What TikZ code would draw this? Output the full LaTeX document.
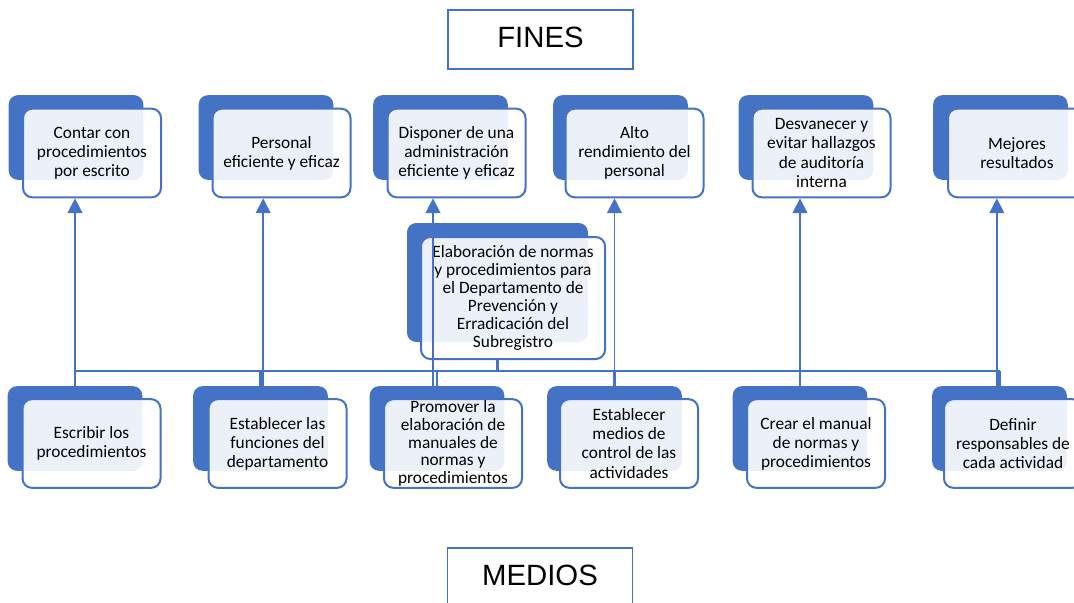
\documentclass[tikz,border=0pt]{standalone}
\usepackage{fontspec}
\setmainfont{Carlito}
\newfontfamily\arialfont{Liberation Sans}
\usetikzlibrary{arrows.meta,positioning}
\definecolor{smblue}{HTML}{4472C4}

\tikzset{
	backbox/.style={rectangle, rounded corners=7pt, fill=smblue, inner sep=0pt, minimum width=101pt, minimum height=63.5pt},
	frontbox/.style={rectangle, rounded corners=7pt, draw=smblue, line width=1.5pt, fill=white, fill opacity=0.9, text opacity=1, align=center, inner sep=0pt, minimum width=103.5pt, minimum height=66.5pt, font=\fontsize{13}{14.3}\selectfont},
	titlebox/.style={rectangle, draw=smblue, line width=1.2pt, minimum width=138.75pt, minimum height=44.25pt, text depth=4pt, font=\arialfont\fontsize{22}{26}\selectfont},
	arr/.style={smblue, line width=1.1pt, -{Triangle[length=11pt,width=11pt]}},
	bus/.style={smblue, line width=2.2pt},
	stub/.style={smblue, line width=1.9pt}
}

\begin{document}
\begin{tikzpicture}[x=0.75pt, y=-0.75pt]
	\useasboundingbox (0,0) rectangle (1074,603);
	\clip (0,0) rectangle (1074,603);
	% titles
	\node (fines) [titlebox] at (540.5, 39.5) {FINES};
	\node (medios) [titlebox] at (540, 577.5) {MEDIOS};
	% fines
	\node (fb1) [backbox] at (76, 137.5) {};
	\node (fb2) [backbox] at (266, 137.5) {};
	\node (fb3) [backbox] at (440.5, 137.5) {};
	\node (fb4) [backbox] at (620.5, 137.5) {};
	\node (fb5) [backbox] at (806, 137.5) {};
	\node (fb6) [backbox] at (1000.5, 137.5) {};
	\node (f1) [frontbox] at (92, 153) {Contar con\\procedimientos\\por escrito};
	\node (f2) [frontbox] at (281.5, 153) {Personal\\eficiente y eficaz};
	\node (f3) [frontbox] at (456.5, 153) {Disponer de una\\administración\\eficiente y eficaz};
	\node (f4) [frontbox] at (634.5, 153) {Alto\\rendimiento del\\personal};
	\node (f5) [frontbox] at (821.5, 153) {Desvanecer y\\evitar hallazgos\\de auditoría\\interna};
	\node (f6) [frontbox] at (1017, 153) {Mejores\\resultados};
	% problema
	\node (pb) [backbox, minimum width=135.75pt, minimum height=89.25pt] at (497.5, 282.5) {};
	\node (p) [frontbox, minimum width=138pt, minimum height=91.5pt, font=\fontsize{13}{13.5}\selectfont] at (513, 298) {Elaboración de normas\\y procedimientos para\\el Departamento de\\Prevención y\\Erradicación del\\Subregistro};
	% medios
	\node (mb1) [backbox] at (75, 428.5) {};
	\node (mb2) [backbox] at (260.5, 428.5) {};
	\node (mb3) [backbox] at (437, 428.5) {};
	\node (mb4) [backbox] at (614.5, 428.5) {};
	\node (mb5) [backbox] at (800, 428.5) {};
	\node (mb6) [backbox] at (999.5, 428.5) {};
	\node (m1) [frontbox] at (91.5, 443.5) {Escribir los\\procedimientos};
	\node (m2) [frontbox] at (277.5, 443.5) {Establecer las\\funciones del\\departamento};
	\node (m3) [frontbox, font=\fontsize{13}{13.4}\selectfont] at (453, 443.5) {Promover la\\elaboración de\\manuales de\\normas y\\procedimientos};
	\node (m4) [frontbox] at (629, 443.5) {Establecer\\medios de\\control de las\\actividades};
	\node (m5) [frontbox] at (816, 443.5) {Crear el manual\\de normas y\\procedimientos};
	\node (m6) [frontbox] at (1013, 443.5) {Definir\\responsables de\\cada actividad};
	% conectores
	\coordinate (bus) at (497.5, 371);
	\draw[stub] (pb.south |- p.south) -- (bus);
	\draw[bus] (mb1.north |- bus) -- (mb6.north |- bus);
	\draw[stub] (mb1.north |- bus) -- (mb1.north);
	\draw[stub] (mb2.north |- bus) -- (mb2.north);
	\draw[stub] (mb3.north |- bus) -- (mb3.north);
	\draw[stub] (mb4.north |- bus) -- (mb4.north);
	\draw[stub] (mb5.north |- bus) -- (mb5.north);
	\draw[stub] (mb6.north |- bus) -- (mb6.north);
	\draw[arr] (mb1.north) -- (mb1.north |- f1.south);
	\draw[arr] ([xshift=2pt]mb2.north) -- ([xshift=2pt]mb2.north |- f2.south);
	\draw[arr] ([xshift=-3pt]mb3.north) -- ([xshift=-3pt]mb3.north |- f3.south);
	\draw[arr] (mb4.north) -- (mb4.north |- f4.south);
	\draw[arr] (mb5.north) -- (mb5.north |- f5.south);
	\draw[arr] ([xshift=-2pt]mb6.north) -- ([xshift=-2pt]mb6.north |- f6.south);
\end{tikzpicture}
\end{document}
